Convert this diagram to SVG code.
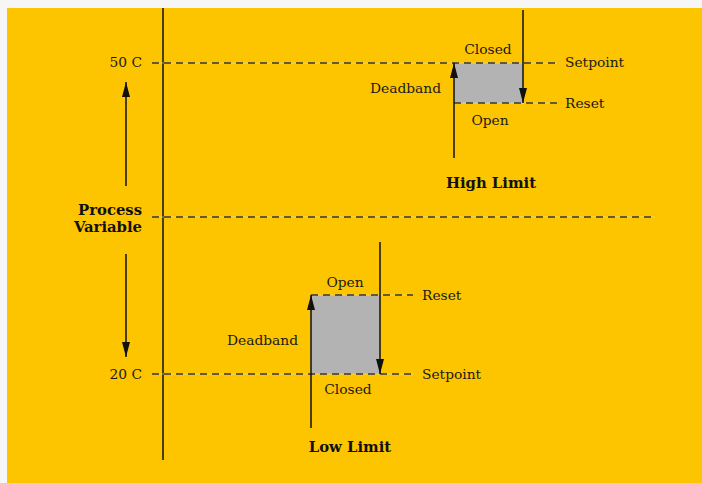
<svg xmlns="http://www.w3.org/2000/svg" width="702" height="483" viewBox="0 0 702 483">
<defs>
<style>
.t{font-family:"DejaVu Serif","Liberation Serif",serif;font-size:13.8px;fill:#1a1a1a}
.b{font-family:"DejaVu Serif","Liberation Serif",serif;font-size:14.8px;font-weight:bold;fill:#111}
.ln{stroke:#111;stroke-width:1.5;fill:none}
.d{stroke:#333;stroke-width:1.4;stroke-dasharray:7 5;fill:none}
.dl{stroke:#fde08a;stroke-width:0.6;fill:none}
.box{fill:#b3b3b3}
</style>
<marker id="ah" viewBox="0 0 15 8" refX="15" refY="4" markerWidth="15" markerHeight="8" markerUnits="userSpaceOnUse" orient="auto" preserveAspectRatio="none"><path d="M0,0 L15,4 L0,8 Z" fill="#111"/></marker>
</defs>
<rect x="0" y="0" width="702" height="483" fill="#f6f6f6"/>
<rect x="7" y="8" width="695" height="475" fill="#fdc400"/>
<g id="boxes">
<rect class="box" x="454" y="63" width="69" height="40"/>
<rect class="box" x="311" y="295" width="69" height="79"/>
</g>
<g id="connectors">
<line class="ln" x1="163" y1="8" x2="163" y2="460"/>
<line class="dl" x1="152" y1="63" x2="557" y2="63"/>
<line class="d" x1="152" y1="63" x2="557" y2="63"/>
<line class="dl" x1="454" y1="103" x2="557" y2="103"/>
<line class="d" x1="454" y1="103" x2="557" y2="103"/>
<line class="dl" x1="152" y1="217" x2="655" y2="217"/>
<line class="d" x1="152" y1="217" x2="655" y2="217"/>
<line class="dl" x1="311" y1="295" x2="413" y2="295"/>
<line class="d" x1="311" y1="295" x2="413" y2="295"/>
<line class="dl" x1="152" y1="374" x2="413" y2="374"/>
<line class="d" x1="152" y1="374" x2="413" y2="374"/>
<line class="ln" x1="126" y1="186" x2="126" y2="82" marker-end="url(#ah)"/>
<line class="ln" x1="126" y1="254" x2="126" y2="357" marker-end="url(#ah)"/>
<line class="ln" x1="454" y1="158" x2="454" y2="63" marker-end="url(#ah)"/>
<line class="ln" x1="523" y1="10" x2="523" y2="103" marker-end="url(#ah)"/>
<line class="ln" x1="311" y1="428" x2="311" y2="295" marker-end="url(#ah)"/>
<line class="ln" x1="380" y1="242" x2="380" y2="374" marker-end="url(#ah)"/>
</g>
<g id="axis">
<text class="t" x="142" y="67" text-anchor="end">50 C</text>
<text class="t" x="142" y="379" text-anchor="end">20 C</text>
<text class="b" x="142" y="215" text-anchor="end">Process</text>
<text class="b" x="142" y="232" text-anchor="end">Variable</text>
</g>
<g id="high-limit">
<text class="t" x="488" y="54" text-anchor="middle">Closed</text>
<text class="t" x="490" y="125" text-anchor="middle">Open</text>
<text class="t" x="441" y="93" text-anchor="end">Deadband</text>
<text class="t" x="565" y="67">Setpoint</text>
<text class="t" x="565" y="108">Reset</text>
<text class="b" x="491" y="188" text-anchor="middle">High Limit</text>
</g>
<g id="low-limit">
<text class="t" x="345" y="287" text-anchor="middle">Open</text>
<text class="t" x="348" y="394" text-anchor="middle">Closed</text>
<text class="t" x="298" y="345" text-anchor="end">Deadband</text>
<text class="t" x="422" y="300">Reset</text>
<text class="t" x="422" y="379">Setpoint</text>
<text class="b" x="350" y="452" text-anchor="middle">Low Limit</text>
</g>
</svg>
